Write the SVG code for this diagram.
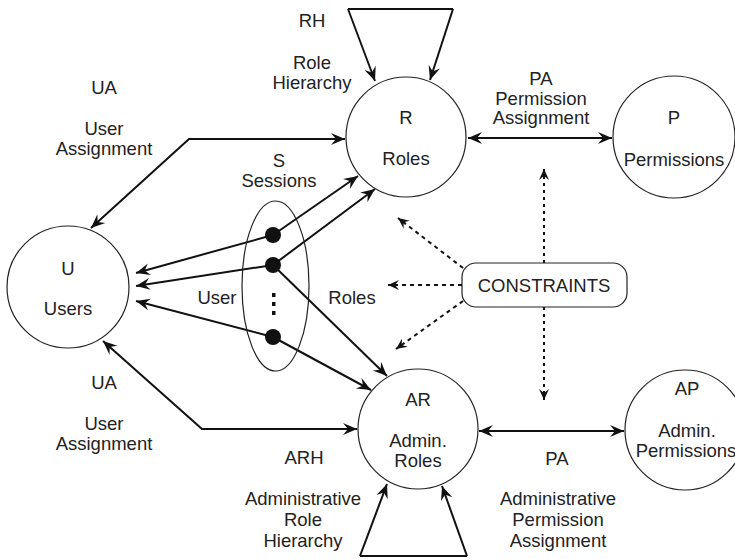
<svg xmlns="http://www.w3.org/2000/svg" width="735" height="559" viewBox="0 0 735 559">
<defs>
<style>
.node{fill:#fff;stroke:#222;stroke-width:1.2}
.ring{fill:none;stroke:#222;stroke-width:1.2}
.t{font-family:"Liberation Sans",Arial,sans-serif;font-size:18.5px;fill:#222;text-anchor:middle}
.c{fill:none;stroke:#111;stroke-width:2}
.d{fill:none;stroke:#111;stroke-width:2;stroke-dasharray:4 4}
.dv{fill:none;stroke:#111;stroke-width:2;stroke-dasharray:3 4}
</style>
<marker id="ah" markerUnits="userSpaceOnUse" viewBox="-14 -7 15 14" refX="0" refY="0" markerWidth="15" markerHeight="14" orient="auto-start-reverse">
<path d="M0,0 L-14,-6 L-9,0 L-14,6 Z" fill="#111"/>
</marker>
<marker id="dh" markerUnits="userSpaceOnUse" viewBox="-12 -6 13 12" refX="0" refY="0" markerWidth="13" markerHeight="12" orient="auto-start-reverse">
<path d="M0,0 L-11,-5 L-7,0 L-11,5 Z" fill="#111"/>
</marker>
</defs>
<rect width="735" height="559" fill="#fff"/>
<g id="connectors">
<line class="c" x1="348" y1="9" x2="453" y2="9"/>
<line class="c" x1="348" y1="9" x2="375" y2="81" marker-end="url(#ah)"/>
<line class="c" x1="453" y1="9" x2="430" y2="80" marker-end="url(#ah)"/>
<line class="c" x1="360" y1="556" x2="467" y2="556"/>
<line class="c" x1="360" y1="556" x2="387" y2="484" marker-end="url(#ah)"/>
<line class="c" x1="467" y1="556" x2="442" y2="486" marker-end="url(#ah)"/>
<polyline class="c" points="345,139 189,139 91,228" marker-start="url(#ah)" marker-end="url(#ah)"/>
<polyline class="c" points="103,341 202,429 357,429" marker-start="url(#ah)" marker-end="url(#ah)"/>
<line class="c" x1="468" y1="138" x2="612" y2="138" marker-start="url(#ah)" marker-end="url(#ah)"/>
<line class="c" x1="479" y1="431" x2="624" y2="431" marker-start="url(#ah)" marker-end="url(#ah)"/>
<line class="c" x1="273" y1="235" x2="136" y2="273" marker-end="url(#ah)"/>
<line class="c" x1="273" y1="265" x2="136" y2="286" marker-end="url(#ah)"/>
<line class="c" x1="273" y1="337" x2="136" y2="301" marker-end="url(#ah)"/>
<line class="c" x1="273" y1="235" x2="358" y2="176" marker-end="url(#ah)"/>
<line class="c" x1="273" y1="265" x2="375" y2="189" marker-end="url(#ah)"/>
<line class="c" x1="273" y1="265" x2="387" y2="376" marker-end="url(#ah)"/>
<line class="c" x1="273" y1="337" x2="371" y2="390" marker-end="url(#ah)"/>
<line class="dv" x1="544" y1="263" x2="544" y2="169" marker-end="url(#dh)"/>
<line class="dv" x1="544" y1="307" x2="544" y2="400" marker-end="url(#dh)"/>
<line class="d" x1="463" y1="268" x2="398" y2="218" marker-end="url(#dh)"/>
<line class="d" x1="462" y1="285" x2="388" y2="285" marker-end="url(#dh)"/>
<line class="d" x1="463" y1="301" x2="396" y2="349" marker-end="url(#dh)"/>
</g>
<g id="sessions">
<ellipse class="ring" cx="275.5" cy="286" rx="33.5" ry="85"/>
<circle cx="273" cy="235" r="8" fill="#111"/>
<circle cx="273" cy="265" r="8" fill="#111"/>
<circle cx="273" cy="337" r="8" fill="#111"/>
<rect x="272" y="293" width="3.5" height="4" fill="#111"/>
<rect x="272" y="302" width="3.5" height="4" fill="#111"/>
<rect x="272" y="311" width="3.5" height="4" fill="#111"/>
<text class="t" x="279" y="167">S</text>
<text class="t" x="279" y="187">Sessions</text>
</g>
<g id="R">
<circle class="node" cx="406" cy="137" r="60"/>
<text class="t" x="406" y="124">R</text>
<text class="t" x="406" y="165">Roles</text>
</g>
<g id="P">
<circle class="node" cx="674" cy="137" r="61"/>
<text class="t" x="674" y="124">P</text>
<text class="t" x="674" y="166">Permissions</text>
</g>
<g id="U">
<circle class="node" cx="68" cy="287" r="61"/>
<text class="t" x="68" y="275">U</text>
<text class="t" x="68" y="315">Users</text>
</g>
<g id="AR">
<circle class="node" cx="418" cy="429" r="60"/>
<text class="t" x="418" y="406">AR</text>
<text class="t" x="418" y="447">Admin.</text>
<text class="t" x="418" y="467">Roles</text>
</g>
<g id="AP">
<circle class="node" cx="685" cy="430" r="60"/>
<text class="t" x="687" y="395">AP</text>
<text class="t" x="687" y="437">Admin.</text>
<text class="t" x="686" y="457">Permissions</text>
</g>
<g id="constraints">
<rect class="node" x="462" y="263" width="165" height="44" rx="14"/>
<text class="t" x="544" y="292">CONSTRAINTS</text>
</g>
<g id="labels">
<text class="t" x="312" y="27">RH</text>
<text class="t" x="312" y="69">Role</text>
<text class="t" x="312" y="89">Hierarchy</text>
<text class="t" x="541" y="85">PA</text>
<text class="t" x="541" y="105">Permission</text>
<text class="t" x="541" y="124">Assignment</text>
<text class="t" x="104" y="94">UA</text>
<text class="t" x="104" y="135">User</text>
<text class="t" x="104" y="155">Assignment</text>
<text class="t" x="217" y="304">User</text>
<text class="t" x="352" y="304">Roles</text>
<text class="t" x="104" y="389">UA</text>
<text class="t" x="104" y="430">User</text>
<text class="t" x="104" y="450">Assignment</text>
<text class="t" x="304" y="464">ARH</text>
<text class="t" x="303" y="505">Administrative</text>
<text class="t" x="303" y="526">Role</text>
<text class="t" x="303" y="547">Hierarchy</text>
<text class="t" x="557" y="465">PA</text>
<text class="t" x="558" y="505">Administrative</text>
<text class="t" x="558" y="526">Permission</text>
<text class="t" x="558" y="547">Assignment</text>
</g>
</svg>
